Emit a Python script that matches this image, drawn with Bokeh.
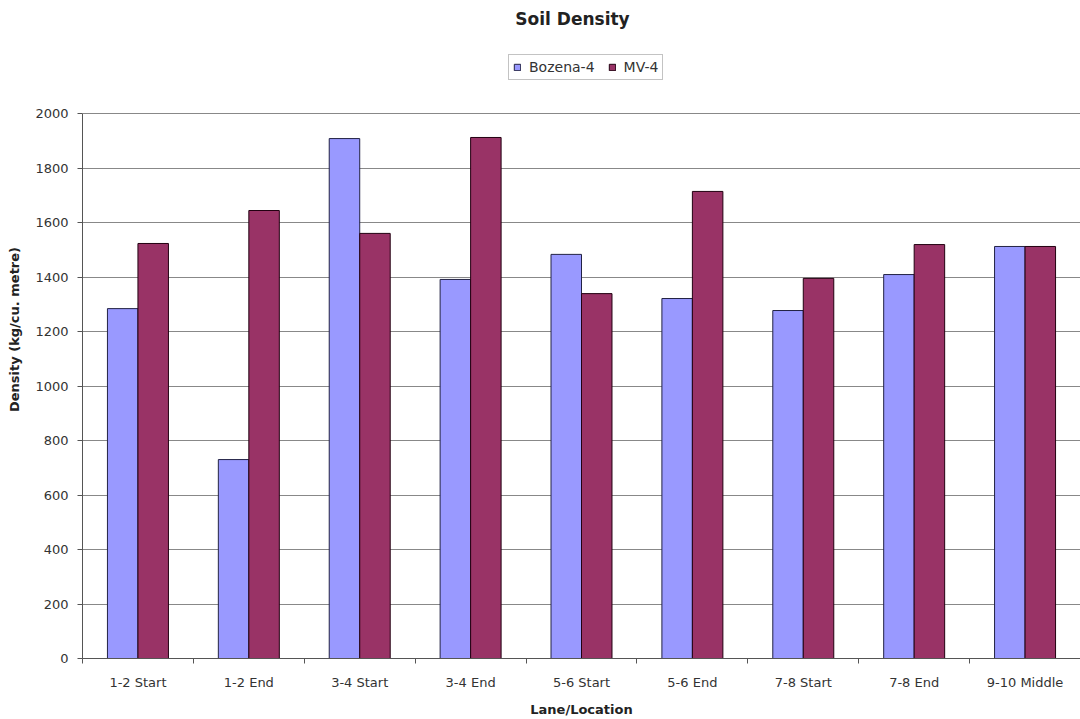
from bokeh.plotting import figure
from bokeh.models import ColumnDataSource, FixedTicker, Label, Legend, LegendItem
from bokeh.embed import file_html
from bokeh.resources import INLINE

categories = ["1-2 Start", "1-2 End", "3-4 Start", "3-4 End", "5-6 Start",
              "5-6 End", "7-8 Start", "7-8 End", "9-10 Middle"]
bozena = [1284, 730, 1908, 1391, 1483, 1321, 1277, 1409, 1512]
mv = [1523, 1644, 1560, 1912, 1339, 1714, 1395, 1519, 1512]
y_ticks = [0, 200, 400, 600, 800, 1000, 1200, 1400, 1600, 1800, 2000]

FONT = "DejaVu Sans"
centers = [i + 0.5 for i in range(len(categories))]
bw = 0.275
src = ColumnDataSource(dict(
    xb=[c - bw / 2 for c in centers],
    xm=[c + bw / 2 for c in centers],
    bozena=bozena, mv=mv))

# frame spans the full height above the axis; extra headroom holds title & legend
FRAME_H = 658
Y_TOP = 2000 * FRAME_H / 545.0

p = figure(width=1080, height=719, output_backend="svg", toolbar_location=None,
           x_range=(0, len(categories)), y_range=(0, Y_TOP),
           min_border_left=82, min_border_right=0, min_border_top=0,
           min_border_bottom=61)
p.outline_line_color = None
p.background_fill_color = "white"
p.border_fill_color = "white"

rb = p.vbar(x="xb", top="bozena", width=bw, source=src, fill_color="#9999FF",
            line_color="#222244", line_width=1)
rm = p.vbar(x="xm", top="mv", width=bw, source=src, fill_color="#993366",
            line_color="#220011", line_width=1)

# x axis
p.xaxis.ticker = FixedTicker(ticks=centers, minor_ticks=list(range(len(categories) + 1)))
p.xaxis.major_label_overrides = {c: n for c, n in zip(centers, categories)}
p.xaxis.major_tick_out = 0
p.xaxis.major_tick_in = 0
p.xaxis.minor_tick_out = 5
p.xaxis.minor_tick_in = 0
p.xaxis.minor_tick_line_color = "#555555"
p.xaxis.axis_line_color = "#555555"
p.xaxis.major_label_standoff = 11
p.xaxis.axis_label = "Lane/Location"
p.xaxis.axis_label_standoff = 9
p.xgrid.grid_line_color = None

# y axis
p.yaxis.ticker = FixedTicker(ticks=y_ticks)
p.yaxis.bounds = (0, 2000)
p.yaxis.minor_tick_line_color = None
p.yaxis.major_tick_out = 5
p.yaxis.major_tick_in = 0
p.yaxis.major_tick_line_color = "#555555"
p.yaxis.axis_line_color = "#555555"
p.yaxis.major_label_standoff = 9
p.yaxis.axis_label = "Density (kg/cu. metre)"
p.yaxis.axis_label_standoff = 10
p.ygrid.grid_line_color = "#888888"
p.ygrid.grid_line_width = 1

for ax in (p.xaxis, p.yaxis):
    ax.major_label_text_font = FONT
    ax.major_label_text_font_size = "13px"
    ax.major_label_text_color = "#333333"
    ax.axis_label_text_font = FONT
    ax.axis_label_text_font_size = "13px"
    ax.axis_label_text_font_style = "bold"
    ax.axis_label_text_color = "#222222"

title = Label(x=490, y=640, x_units="screen", y_units="screen",
              text="Soil Density", text_font=FONT, text_font_size="17px",
              text_font_style="bold", text_align="center", text_baseline="middle",
              text_color="#222222")
p.add_layout(title)

legend = Legend(items=[LegendItem(label="Bozena-4", renderers=[rb]),
                       LegendItem(label="MV-4", renderers=[rm])],
                location=(426, 578), orientation="horizontal",
                label_text_font=FONT, label_text_font_size="14px",
                label_text_color="#333333", glyph_width=8, glyph_height=8,
                label_standoff=8, spacing=13, padding=4, margin=0,
                border_line_color="#888888", border_line_width=1.5,
                label_height=15)
p.add_layout(legend, "center")

open("out.html", "w").write(file_html(p, INLINE))
